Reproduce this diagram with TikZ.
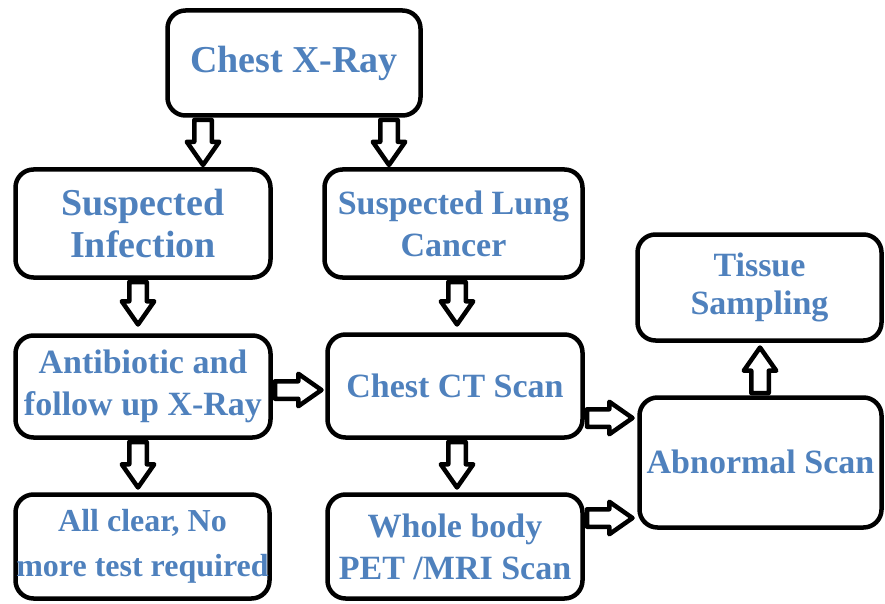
\documentclass[tikz,border=0pt]{standalone}
\usepackage{fontspec}
\setmainfont{Liberation Serif}
\usetikzlibrary{shapes.arrows}
\definecolor{txtblue}{HTML}{4F81BD}
\begin{document}
\begin{tikzpicture}[x=1pt,y=-1pt,
  box/.style={draw=black, line width=4.5pt, rounded corners=18pt, inner sep=0pt,
    align=center, text=txtblue, font=\bfseries\fontsize{34}{42}\selectfont},
  big/.style={font=\bfseries\fontsize{38}{42}\selectfont},
  blk/.style={single arrow, draw=black, fill=white, line width=4.5pt, line join=round,
    inner sep=6.5pt, single arrow head extend=7.5pt, single arrow tip angle=70,
    single arrow head indent=0pt, anchor=tail}]
\useasboundingbox (0,0) rectangle (885,604);
% boxes
\node[box,big,minimum width=253pt,minimum height=105pt] (xray) at (294,63) {Chest X-Ray};
\node[box,big,minimum width=255pt,minimum height=108pt] (infect) at (143,223.5) {Suspected\\Infection};
\node[box,minimum width=258pt,minimum height=108pt] (lung) at (453.5,223.5) {Suspected Lung\\Cancer};
\node[box,minimum width=255pt,minimum height=102pt] (antib) at (143,386.5) {Antibiotic and\\follow up X-Ray};
\node[box,minimum width=255pt,minimum height=103pt] (ct) at (455,386) {\raisebox{-5pt}{Chest CT Scan}};
\node[box,font=\bfseries\fontsize{32}{45}\selectfont,minimum width=254pt,minimum height=104pt] (clear) at (142.5,546.5) {All clear, No\\more test required};
\node[box,minimum width=255pt,minimum height=104pt] (whole) at (455,546.5) {Whole body\\PET /MRI Scan};
\node[box,font=\bfseries\fontsize{34}{38}\selectfont,minimum width=244pt,minimum height=106pt] (tissue) at (759.5,287.5) {Tissue\\Sampling};
\node[box,minimum width=242pt,minimum height=130pt] (abn) at (760.5,462.5) {\raisebox{2pt}{Abnormal Scan}};
% arrow positions
\coordinate (xa) at (203,0);
\coordinate (xb) at (389,0);
\coordinate (xc) at (138,0);
\coordinate (xd) at (457,0);
\coordinate (xe) at (760,0);
\coordinate (ya) at (0,390);
\coordinate (yb) at (0,418);
\coordinate (yc) at (0,518);
% block arrows
\node[blk,rotate=-90,minimum height=45pt] (a1) at (xray.south -| xa) {};
\node[blk,rotate=-90,minimum height=45pt] (a2) at (xray.south -| xb) {};
\node[blk,rotate=-90,minimum height=42.5pt] (a3) at (infect.south -| xc) {};
\node[blk,rotate=-90,minimum height=42.5pt] (a4) at (lung.south -| xd) {};
\node[blk,rotate=-90,minimum height=45.5pt] (a5) at (antib.south -| xc) {};
\node[blk,rotate=-90,minimum height=45.5pt] (a6) at (ct.south -| xd) {};
\node[blk,minimum height=46.5pt] (a7) at (antib.east |- ya) {};
\node[blk,minimum height=45.5pt] (a8) at (ct.east |- yb) {};
\node[blk,minimum height=45.5pt] (a9) at (whole.east |- yc) {};
\node[blk,rotate=90,minimum height=45.5pt] (a10) at (abn.north -| xe) {};
\end{tikzpicture}
\end{document}
